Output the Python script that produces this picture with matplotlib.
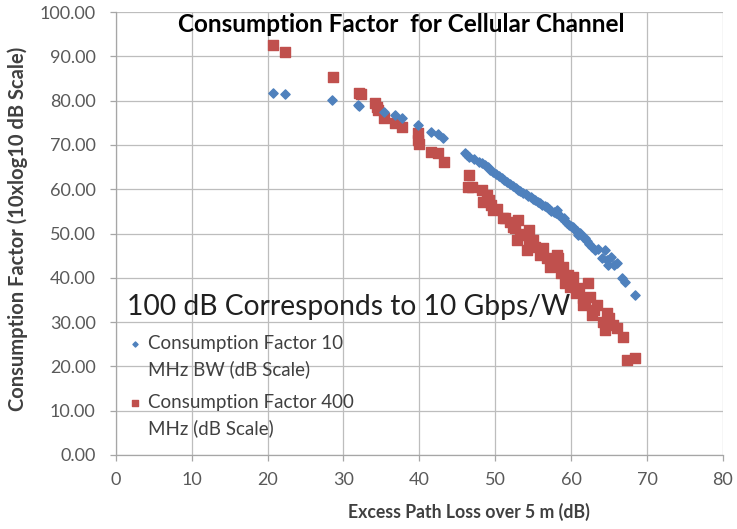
import matplotlib.pyplot as plt
from matplotlib.lines import Line2D
from matplotlib.ticker import FormatStrFormatter

plt.rcParams['font.family'] = ['Lato', 'DejaVu Sans']

# Consumption factor, 10 MHz BW (blue diamonds)
loss_10 = [20.7, 22.3, 28.5, 31.9, 32.1, 35.4, 36.8, 37.7, 39.8, 41.6, 42.4, 43.1,
           46.0, 46.3, 46.6, 47.2, 47.8, 48.2, 48.6, 49.0, 49.3, 49.7, 50.1, 50.5,
           50.9, 51.2, 51.5, 51.9, 52.3, 52.7, 53.0, 53.3, 53.6, 54.0, 54.3, 54.7,
           55.0, 55.3, 55.6, 55.9, 56.2, 56.5, 56.8, 57.1, 57.4, 57.7, 58.0, 58.1,
           58.4, 58.7, 59.0, 59.2, 59.4, 59.7, 60.0, 60.2, 60.5, 60.8, 60.9, 61.2,
           61.5, 61.8, 62.1, 62.4, 62.8, 63.1, 63.5, 64.0, 64.4, 64.7, 64.8, 65.2,
           65.7, 66.0, 66.7, 67.1, 68.4]
cf_10 = [81.7, 81.5, 80.1, 79.0, 78.9, 77.4, 76.7, 76.1, 74.5, 73.0, 72.4, 71.6,
         68.2, 67.7, 67.3, 66.8, 66.2, 65.9, 65.4, 65.0, 64.3, 64.0, 63.5, 63.0,
         62.6, 62.2, 61.6, 61.1, 60.8, 60.2, 59.9, 59.5, 59.1, 58.9, 58.5, 58.2,
         57.8, 57.5, 57.2, 56.9, 56.5, 56.2, 56.0, 55.6, 55.2, 54.9, 54.6, 55.3,
         54.1, 53.8, 53.4, 52.8, 52.4, 52.0, 51.6, 51.5, 50.9, 50.5, 49.7, 50.1,
         49.2, 48.9, 48.3, 47.6, 47.0, 46.3, 46.6, 44.5, 46.3, 44.0, 42.9, 44.6,
         42.9, 43.3, 40.0, 39.1, 36.1]

# Consumption factor, 400 MHz (red squares)
loss_400 = [20.7, 22.3, 28.6, 32.0, 32.3, 34.1, 34.4, 34.5, 35.4, 36.8, 37.7, 39.8,
            39.8, 40.0, 41.6, 42.4, 43.2, 46.6, 46.4, 47.0, 48.2, 48.4, 48.9, 49.2,
            49.5, 49.7, 50.2, 51.0, 51.3, 52.0, 52.3, 52.6, 53.0, 52.8, 53.2, 53.6,
            54.5, 54.5, 54.2, 55.2, 55.0, 55.9, 56.3, 56.8, 57.2, 57.6, 58.1, 58.2,
            58.9, 58.6, 59.2, 59.6, 60.2, 59.9, 60.7, 61.0, 61.5, 62.2, 62.5, 61.8,
            61.5, 62.8, 63.4, 63.0, 64.2, 64.7, 64.4, 65.0, 65.5, 66.0, 66.8, 67.3,
            68.4]
cf_400 = [92.6, 91.0, 85.3, 81.7, 81.5, 79.5, 78.6, 77.9, 76.1, 74.9, 74.0, 72.7,
          71.1, 70.3, 68.4, 68.2, 66.1, 63.2, 60.5, 60.6, 59.8, 57.1, 58.7, 57.6,
          56.4, 55.3, 55.6, 53.5, 53.4, 52.6, 51.5, 51.2, 53.0, 48.5, 50.0, 49.6,
          50.8, 48.1, 46.3, 47.0, 48.6, 45.1, 46.8, 44.5, 42.4, 43.5, 45.1, 44.5,
          42.4, 41.0, 38.8, 40.7, 40.2, 38.0, 36.6, 37.8, 35.4, 38.8, 35.7, 34.6,
          33.9, 31.6, 33.9, 32.8, 30.0, 32.1, 28.2, 30.9, 29.3, 28.6, 26.6, 21.4,
          21.9]

x_ticks = list(range(0, 81, 10))
y_ticks = list(range(0, 101, 10))

blue = '#4F81BD'
red = '#C0504D'
grey_txt = '#404040'
tick_txt = '#595959'

fig = plt.figure(figsize=(7.37, 5.29), dpi=100)
ax = fig.add_axes([0.157, 0.140, 0.824, 0.837])

sc_blue = ax.scatter(loss_10, cf_10, marker='D', s=22, color=blue, zorder=3)
sc_red = ax.scatter(loss_400, cf_400, marker='s', s=48, color=red, zorder=2)

ax.set_xlim(0, 80)
ax.set_ylim(0, 100)
ax.set_xticks(x_ticks)
ax.set_yticks(y_ticks)
ax.yaxis.set_major_formatter(FormatStrFormatter('%.2f'))
ax.grid(True, color='#bdbdbd', linewidth=0.9)
ax.set_axisbelow(True)
for side in ['top', 'right']:
    ax.spines[side].set_visible(False)
for side in ['left', 'bottom']:
    ax.spines[side].set_color('#a6a6a6')
    ax.spines[side].set_linewidth(0.9)
ax.tick_params(axis='both', colors='#a6a6a6', labelcolor=tick_txt,
               labelsize=13, length=4.5, width=0.9)
ax.tick_params(axis='y', pad=10)
ax.tick_params(axis='x', pad=8)

ax.set_xlabel('Excess Path Loss over 5 m (dB)', fontsize=12.7, fontweight='bold',
              color=grey_txt)
ax.xaxis.set_label_coords(0.581, -0.108)
ax.set_ylabel('Consumption Factor (10xlog10 dB Scale)', fontsize=14.5,
              fontweight='bold', color=grey_txt)
ax.yaxis.set_label_coords(-0.145, 0.51)

ax.text(0.471, 0.998, 'Consumption Factor  for Cellular Channel', transform=ax.transAxes,
        ha='center', va='top', fontsize=17.5, fontweight='bold', color='black')

ax.text(0.019, 0.333, '100 dB Corresponds to 10 Gbps/W', transform=ax.transAxes,
        ha='left', va='center', fontsize=20.3, color='#202020')

blank = Line2D([], [], linestyle='none')
leg_kw = dict(frameon=False, fontsize=13.5, handletextpad=0.15, labelspacing=0.42,
              markerscale=0.55, handlelength=1.0, borderaxespad=0, borderpad=0)
leg1 = ax.legend([sc_blue, blank], ['Consumption Factor 10', 'MHz BW (dB Scale)'],
                 loc='upper left', bbox_to_anchor=(0.017, 0.270), **leg_kw)
ax.add_artist(leg1)
leg2 = ax.legend([sc_red, blank], ['Consumption Factor 400', 'MHz (dB Scale)'],
                 loc='upper left', bbox_to_anchor=(0.017, 0.137), **leg_kw)
for lg in (leg1, leg2):
    for t in lg.get_texts():
        t.set_color(grey_txt)

fig.savefig('out.png', dpi=100, facecolor='white')
